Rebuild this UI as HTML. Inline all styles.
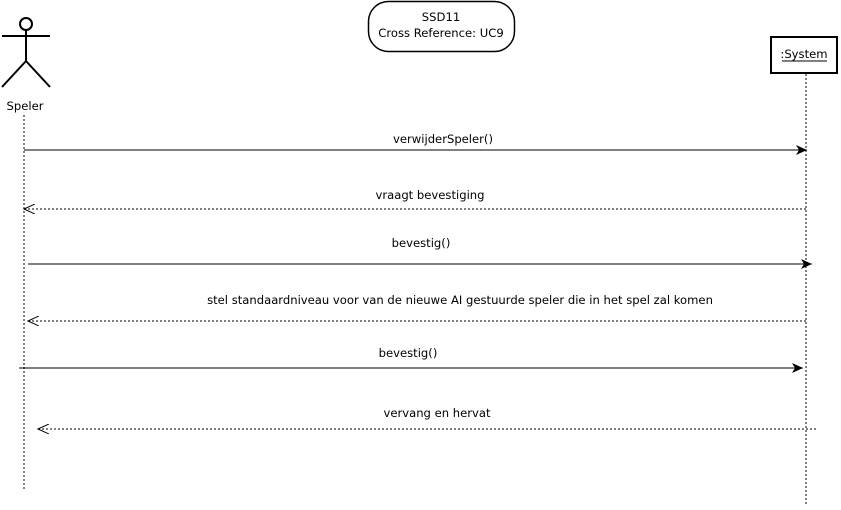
<!DOCTYPE html><html><head><style>body{margin:0;background:#fff}svg{display:block}text{font-family:"DejaVu Sans","Liberation Sans",sans-serif;font-size:11.6px;fill:#000}</style></head><body>
<svg width="841" height="510" viewBox="0 0 841 510">
<defs><marker id="f" markerWidth="12" markerHeight="10" refX="11" refY="5" orient="auto" markerUnits="userSpaceOnUse"><path d="M0,0 L11,5 L0,10 L3,5 z" fill="#000"/></marker>
<marker id="o" markerWidth="12" markerHeight="10" refX="11" refY="5" orient="auto" markerUnits="userSpaceOnUse"><path d="M0,0 L11,5 L0,10" fill="none" stroke="#000"/></marker></defs>
<rect x="368.5" y="1.5" width="146" height="50" rx="20" fill="#fff" stroke="#000" stroke-width="1.5"/>
<text x="441" y="21" text-anchor="middle">SSD11</text>
<text x="441" y="37" text-anchor="middle">Cross Reference: UC9</text>
<g stroke="#000" stroke-width="2" fill="none"><circle cx="26" cy="24" r="6"/><line x1="2" y1="36" x2="50" y2="36"/><line x1="26" y1="30" x2="26" y2="61"/><line x1="26" y1="61" x2="2" y2="87"/><line x1="26" y1="61" x2="50" y2="87"/></g>
<text x="25" y="110" text-anchor="middle">Speler</text>
<rect x="771" y="37" width="66" height="36" fill="#fff" stroke="#000" stroke-width="2"/>
<text x="804" y="58" text-anchor="middle">:System</text><line x1="782" y1="61" x2="827" y2="61" stroke="#000"/>
<g stroke="#000" stroke-dasharray="2,2"><line x1="24" y1="115" x2="24" y2="490"/><line x1="806" y1="74" x2="806" y2="505"/></g>
<g stroke="#000" fill="none">
<line x1="24" y1="150" x2="807" y2="150" marker-end="url(#f)"/>
<line x1="806" y1="209" x2="24" y2="209" stroke-dasharray="2,2" marker-end="url(#o)"/>
<line x1="28" y1="264" x2="812" y2="264" marker-end="url(#f)"/>
<line x1="806" y1="321" x2="28" y2="321" stroke-dasharray="2,2" marker-end="url(#o)"/>
<line x1="19" y1="368" x2="803" y2="368" marker-end="url(#f)"/>
<line x1="816" y1="429" x2="38" y2="429" stroke-dasharray="2,2" marker-end="url(#o)"/>
</g>
<text x="443" y="143" text-anchor="middle">verwijderSpeler()</text>
<text x="430" y="199" text-anchor="middle">vraagt bevestiging</text>
<text x="421" y="247" text-anchor="middle">bevestig()</text>
<text x="460" y="304" text-anchor="middle">stel standaardniveau voor van de nieuwe AI gestuurde speler die in het spel zal komen</text>
<text x="408" y="357" text-anchor="middle">bevestig()</text>
<text x="437" y="417" text-anchor="middle">vervang en hervat</text>
</svg></body></html>
